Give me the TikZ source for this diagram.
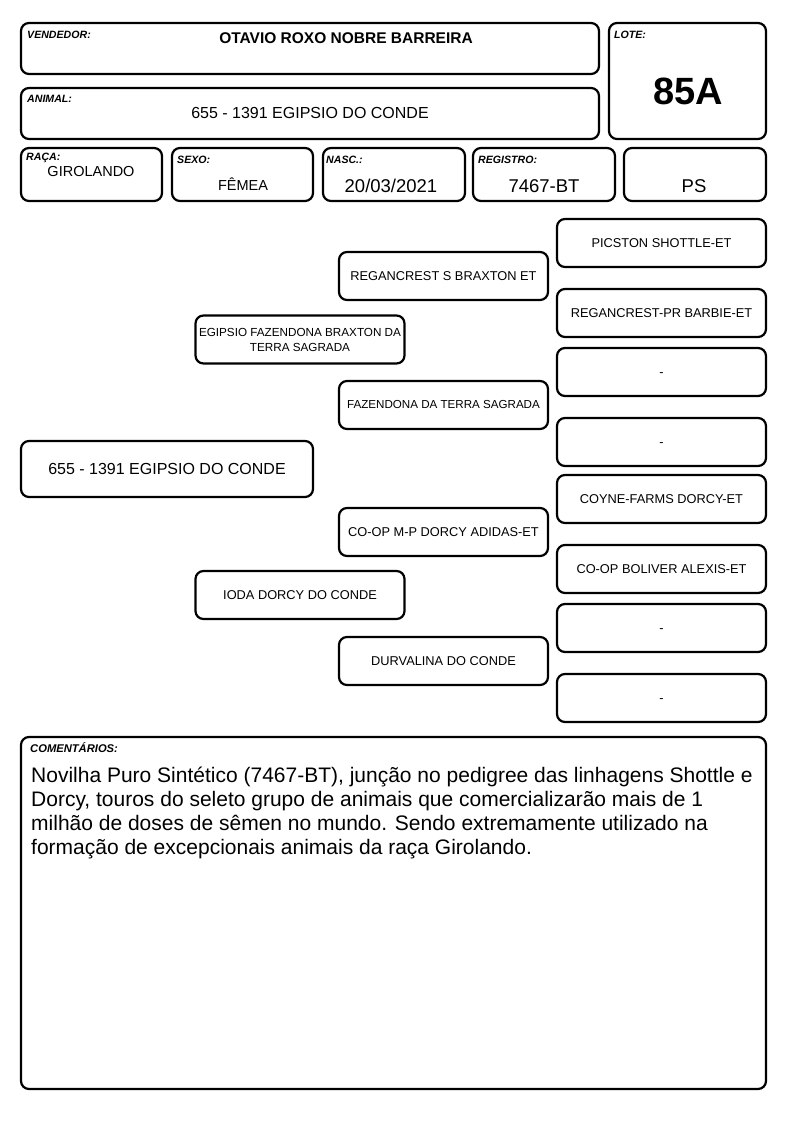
\documentclass[tikz,border=0pt]{standalone}
\usepackage{fontspec}
\setmainfont{Liberation Sans}
\usetikzlibrary{positioning}

\tikzset{
  cell/.style={draw, line width=2.2pt, rounded corners=8pt, inner sep=0pt, outer sep=0pt, anchor=north west},
  tag/.style={font=\fontsize{10.6}{12}\selectfont\bfseries\itshape, anchor=west, inner sep=0pt},
  ped/.style={draw, line width=2.2pt, rounded corners=8pt, minimum width=209pt, minimum height=48pt,
    inner sep=1pt, outer sep=0pt, align=center, font=\fontsize{12.8}{15}\selectfont},
}
\newcommand{\vazio}{\vphantom{A}-}

\begin{document}
\begin{tikzpicture}[x=1pt,y=-1pt]
    \useasboundingbox[fill=white] (0,0) rectangle (794,1123);

    % ficha
    \begin{scope}[every node/.style={cell}]
      \node[minimum width=578pt, minimum height=51pt] (vendedor) at (21,23) {};
      \node[minimum width=157pt, minimum height=116pt] (lote) at (609,23) {};
      \node[minimum width=578pt, minimum height=51pt] (animal) at (21,88) {};
      \node[minimum width=141pt, minimum height=53pt] (raca) at (21,148) {};
      \node[minimum width=141pt, minimum height=53pt] (sexo) at (172,148) {};
      \node[minimum width=142pt, minimum height=53pt] (nasc) at (323,148) {};
      \node[minimum width=142pt, minimum height=53pt] (registro) at (473,148) {};
      \node[minimum width=142pt, minimum height=53pt] (ps) at (624,148) {};
      \node[minimum width=745pt, minimum height=352pt] (comentarios) at (21,737) {};
    \end{scope}

    \node[tag] (vendedor-tag) at (27,35) {VENDEDOR:};
    \node[tag] (lote-tag) at (614,35) {LOTE:};
    \node[tag] (animal-tag) at (27,99) {ANIMAL:};
    \node[tag] (raca-tag) at (26,158) {RAÇA:};
    \node[tag] (sexo-tag) at (177,160) {SEXO:};
    \node[tag] (nasc-tag) at (326,160) {NASC.:};
    \node[tag] (registro-tag) at (478,160) {REGISTRO:};
    \node[tag, font=\fontsize{11.2}{13}\selectfont\bfseries\itshape] (comentarios-tag) at (30,748) {COMENTÁRIOS:};

    \node[font=\fontsize{15.5}{18}\selectfont\bfseries] (vendedor-txt) at (346,38) {OTAVIO ROXO NOBRE BARREIRA};
    \node[font=\fontsize{38}{40}\selectfont\bfseries] (lote-txt) at (688,91) {85A};
    \node[font=\fontsize{16}{19}\selectfont] (animal-txt) at (310,113) {655 - 1391 EGIPSIO DO CONDE};
    \node[font=\fontsize{14.5}{17}\selectfont] (raca-txt) at (91,172) {GIROLANDO};
    \node[font=\fontsize{14.5}{17}\selectfont] (sexo-txt) at (243,184) {FÊMEA};
    \node[font=\fontsize{18.5}{21}\selectfont] (nasc-txt) at (391,186) {20/03/2021};
    \node[font=\fontsize{18.5}{21}\selectfont] (registro-txt) at (544,186) {7467-BT};
    \node[font=\fontsize{18.5}{21}\selectfont] (ps-txt) at (694,186) {PS};

    \node[anchor=north west, inner sep=0pt, align=left, font=\fontsize{21}{24}\selectfont] (comentarios-txt) at (31,767)
      {Novilha Puro Sintético (7467-BT), junção no pedigree das linhagens Shottle e\\
       Dorcy, touros do seleto grupo de animais que comercializarão mais de 1\\
       milhão de doses de sêmen no mundo. Sendo extremamente utilizado na\\
       formação de excepcionais animais da raça Girolando.};

    % pedigree
    \begin{scope}[every node/.style={ped}]
      \node[minimum width=292pt, minimum height=56pt, font=\fontsize{16}{19}\selectfont] (eu) at (167,469) {655 - 1391 EGIPSIO DO CONDE};

      \node[font=\fontsize{11.7}{15}\selectfont] (p) at (300,339.5) {EGIPSIO FAZENDONA BRAXTON DA\\TERRA SAGRADA};
      \node (m) at (300,595) {IODA DORCY DO CONDE};

      \node (pp) at (443.5,276) {REGANCREST S BRAXTON ET};
      \node[font=\fontsize{11.6}{14}\selectfont] (pm) at (443.5,405) {FAZENDONA DA TERRA SAGRADA};
      \node (mp) at (443.5,532) {CO-OP M-P DORCY ADIDAS-ET};
      \node (mm) at (443.5,661) {DURVALINA DO CONDE};

      \node (ppp) at (661.5,243) {PICSTON SHOTTLE-ET};
      \node (ppm) at (661.5,313) {REGANCREST-PR BARBIE-ET};
      \node (pmp) at (661.5,372) {\vazio};
      \node (pmm) at (661.5,442) {\vazio};
      \node (mpp) at (661.5,499) {COYNE-FARMS DORCY-ET};
      \node (mpm) at (661.5,569) {CO-OP BOLIVER ALEXIS-ET};
      \node (mmp) at (661.5,628) {\vazio};
      \node (mmm) at (661.5,698) {\vazio};
    \end{scope}
  \end{tikzpicture}
\end{document}
